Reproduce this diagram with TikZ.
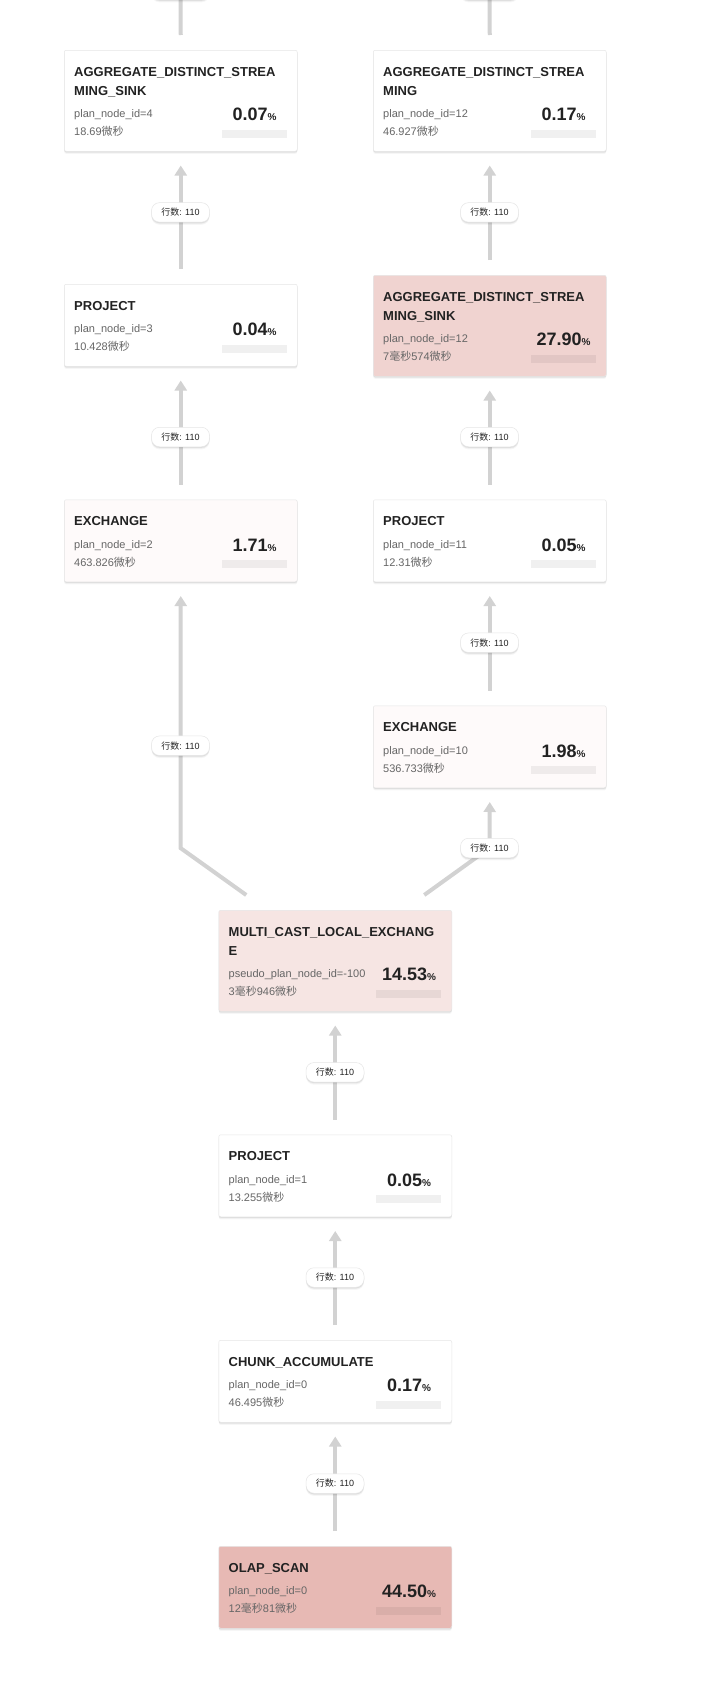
\documentclass[tikz,border=0pt]{standalone}
\usepackage{fontspec}
\setmainfont{Liberation Sans}
\newfontfamily\cjkfont{Noto Sans CJK SC}
\usetikzlibrary{arrows.meta,shadows,calc}
\definecolor{txtdark}{HTML}{222222}
\definecolor{txtgray}{HTML}{666666}
\definecolor{edgegray}{HTML}{D2D2D2}
\definecolor{bordergray}{HTML}{E6E6E6}
\definecolor{heatO}{HTML}{FFFFFF}
\definecolor{heatA}{HTML}{FEFAFA}
\definecolor{heatB}{HTML}{F6E5E3}
\definecolor{heatC}{HTML}{F0D3D0}
\definecolor{heatD}{HTML}{E7B9B4}
\newcommand\zh[1]{{\cjkfont #1}}
\tikzset{
  softshadow/.style={
    general shadow={shadow xshift=0pt, shadow yshift=-2.6pt, fill=black, opacity=0.035},
    general shadow={shadow xshift=0pt, shadow yshift=-1.6pt, fill=black, opacity=0.05},
    general shadow={shadow xshift=0pt, shadow yshift=-0.8pt, fill=black, opacity=0.06}},
  opbox/.style={draw=bordergray, line width=0.5pt, rounded corners=2pt, inner sep=0pt,
    minimum width=233pt, softshadow},
  titletxt/.style={anchor=base west, inner sep=0pt, text=txtdark, font=\fontsize{13}{15}\selectfont\bfseries},
  idtxt/.style={anchor=base west, inner sep=0pt, text=txtgray, font=\fontsize{11}{13}\selectfont},
  pcttxt/.style={anchor=base, inner sep=0pt, text=txtdark},
  barbox/.style={inner sep=0pt, minimum width=65pt, minimum height=8pt, anchor=north east},
  edge/.style={draw=edgegray, line width=4pt, -{Triangle[width=12pt,length=10pt]}},
  edgeplain/.style={draw=edgegray, line width=4pt},
  rowlbl/.style={draw=bordergray, line width=0.5pt, fill=white, rounded corners=8pt,
    minimum width=58pt, minimum height=19.5pt, inner sep=0pt, text=txtdark,
    font=\fontsize{9}{11}\selectfont, softshadow}
}
% #1 name #2 left #3 top #4 fill #5 title1 #6 title2 #7 id #8 time #9 pct
\newcommand\planbox[9]{%
  \if\relax\detokenize{#6}\relax\def\pbextra{0}\else\def\pbextra{19}\fi
  \node[opbox, fill=#4, minimum height={82+\pbextra}, anchor=north west] (#1) at (#2,#3) {};
  \node[titletxt] (#1-t1) at ({#2+10},{#3+26}) {#5};
  \if\relax\detokenize{#6}\relax\else\node[titletxt] (#1-t2) at ({#2+10},{#3+45}) {#6};\fi
  \node[idtxt] (#1-id) at ({#2+10},{#3+48.8+\pbextra}) {#7};
  \node[idtxt] (#1-tm) at ({#2+10},{#3+66.6+\pbextra}) {#8};
  \node[barbox, fill=#4!94!black] (#1-bar) at ({#2+223},{#3+60.5+\pbextra}) {};
  \node[pcttxt] (#1-pct) at ({#2+190.5},{#3+51.7+\pbextra})
    {{\fontsize{18}{20}\selectfont\bfseries #9}{\fontsize{10}{12}\selectfont\bfseries\%}};
}
\begin{document}
\begin{tikzpicture}[x=1pt,y=-1pt]
\useasboundingbox (0,0) rectangle (704,1689);
\fill[white] (0,0) rectangle (704,1689);

\planbox{l1}{64}{50}{heatO}{AGGREGATE\_DISTINCT\_STREA}{MING\_SINK}{plan\_node\_id=4}{18.69\zh{微秒}}{0.07}
\planbox{r1}{373}{50}{heatO}{AGGREGATE\_DISTINCT\_STREA}{MING}{plan\_node\_id=12}{46.927\zh{微秒}}{0.17}
\planbox{l2}{64}{284}{heatO}{PROJECT}{}{plan\_node\_id=3}{10.428\zh{微秒}}{0.04}
\planbox{r2}{373}{275}{heatC}{AGGREGATE\_DISTINCT\_STREA}{MING\_SINK}{plan\_node\_id=12}{7\zh{毫秒}574\zh{微秒}}{27.90}
\planbox{l3}{64}{499.5}{heatA}{EXCHANGE}{}{plan\_node\_id=2}{463.826\zh{微秒}}{1.71}
\planbox{r3}{373}{499.5}{heatO}{PROJECT}{}{plan\_node\_id=11}{12.31\zh{微秒}}{0.05}
\planbox{r4}{373}{705.5}{heatA}{EXCHANGE}{}{plan\_node\_id=10}{536.733\zh{微秒}}{1.98}
\planbox{mc}{218.5}{910}{heatB}{MULTI\_CAST\_LOCAL\_EXCHANG}{E}{pseudo\_plan\_node\_id=-100}{3\zh{毫秒}946\zh{微秒}}{14.53}
\planbox{p1}{218.5}{1134.5}{heatO}{PROJECT}{}{plan\_node\_id=1}{13.255\zh{微秒}}{0.05}
\planbox{ca}{218.5}{1340}{heatO}{CHUNK\_ACCUMULATE}{}{plan\_node\_id=0}{46.495\zh{微秒}}{0.17}
\planbox{os}{218.5}{1546}{heatD}{OLAP\_SCAN}{}{plan\_node\_id=0}{12\zh{毫秒}81\zh{微秒}}{44.50}

% top (parents off page)
\coordinate (ltop) at (180.5,-30);
\coordinate (rtop) at (489.5,-30);
\draw[edgeplain] (ltop) -- ($(l1.north)+(0,-15)$);
\draw[edgeplain] (rtop) -- ($(r1.north)+(0,-15)$);

% edges child -> parent
\draw[edge] ($(l2.north)+(0,-15)$) -- ($(l1.south)+(0,14)$);
\draw[edge] ($(r2.north)+(0,-15)$) -- ($(r1.south)+(0,14)$);
\draw[edge] ($(l3.north)+(0,-15)$) -- ($(l2.south)+(0,14)$);
\draw[edge] ($(r3.north)+(0,-15)$) -- ($(r2.south)+(0,14)$);
\draw[edge] ($(r4.north)+(0,-15)$) -- ($(r3.south)+(0,14)$);
\coordinate (lbend) at (180.5,848);
\coordinate (rbend) at (489.5,848);
\draw[edge] ($(mc.north)+(-89,-15)$) -- (lbend) -- ($(l3.south)+(0,14)$);
\draw[edge] ($(mc.north)+(89,-15)$) -- (rbend) -- ($(r4.south)+(0,14)$);
\draw[edge] ($(p1.north)+(0,-15)$) -- ($(mc.south)+(0,14)$);
\draw[edge] ($(ca.north)+(0,-15)$) -- ($(p1.south)+(0,14)$);
\draw[edge] ($(os.north)+(0,-15)$) -- ($(ca.south)+(0,14)$);

% row labels (the two at the top are cut off by the page edge)
\node[rowlbl] (lbt1) at (180.5,-10) {};
\node[rowlbl] (lbt2) at (489.5,-10) {};
\node[rowlbl] (lb1) at (180.5,212.4) {\zh{行数}: 110};
\node[rowlbl] (lb2) at (489.5,212.4) {\zh{行数}: 110};
\node[rowlbl] (lb3) at (180.5,437) {\zh{行数}: 110};
\node[rowlbl] (lb4) at (489.5,437) {\zh{行数}: 110};
\node[rowlbl] (lb5) at (489.5,642.7) {\zh{行数}: 110};
\node[rowlbl] (lb6) at (180.5,745.7) {\zh{行数}: 110};
\node[rowlbl] (lb7) at (489.5,848) {\zh{行数}: 110};
\node[rowlbl] (lb8) at (335,1072.3) {\zh{行数}: 110};
\node[rowlbl] (lb9) at (335,1277.5) {\zh{行数}: 110};
\node[rowlbl] (lb10) at (335,1483.5) {\zh{行数}: 110};
\end{tikzpicture}
\end{document}
